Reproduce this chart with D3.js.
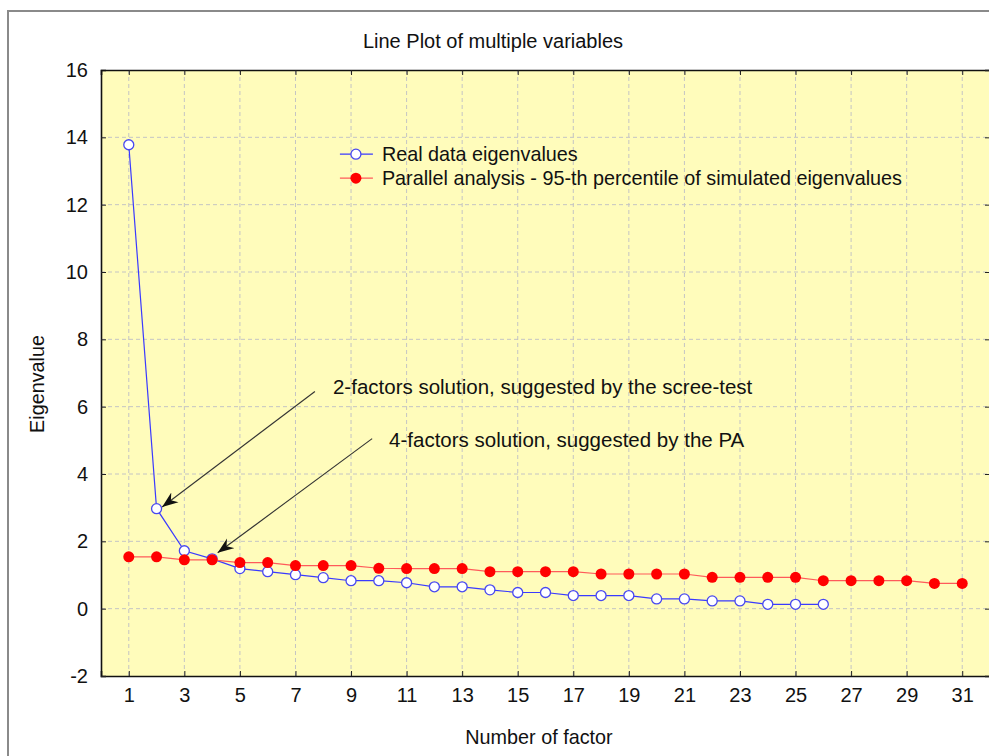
<!DOCTYPE html>
<html>
<head>
<meta charset="utf-8">
<script src="https://cdn.jsdelivr.net/npm/d3@7"></script>
<style>
  body { margin: 0; background: white; }
  text { font-family: "Liberation Sans", Arial, sans-serif; fill: #111; }
</style>
</head>
<body>
<div id="wrapper"></div>
<script>
// 1. Data
const factors = d3.range(1, 32)
const realEigen = [13.78, 2.97, 1.72, 1.48, 1.19, 1.10, 1.01, 0.92, 0.83, 0.83,
  0.77, 0.65, 0.65, 0.56, 0.48, 0.48, 0.39, 0.39, 0.39, 0.29,
  0.29, 0.23, 0.23, 0.13, 0.13, 0.13]
const parallelEigen = [1.54, 1.54, 1.45, 1.45, 1.37, 1.37, 1.28, 1.28, 1.28, 1.20,
  1.19, 1.19, 1.19, 1.10, 1.10, 1.10, 1.10, 1.03, 1.03, 1.03,
  1.03, 0.93, 0.93, 0.93, 0.93, 0.83, 0.83, 0.83, 0.83, 0.75, 0.75]
const xTicks = d3.range(1, 32, 2)
const yTicks = d3.range(-2, 17, 2)
const seriesNames = [
  "Real data eigenvalues",
  "Parallel analysis - 95-th percentile of simulated eigenvalues"
]
const annotations = [
  { text: "2-factors solution, suggested by the scree-test", tx: 8.35, ty: 6.6, x1: 7.7, y1: 6.45, x2: 2.2, y2: 3.02 },
  { text: "4-factors solution, suggested by the PA", tx: 10.37, ty: 5.02, x1: 9.76, y1: 5.05, x2: 4.2, y2: 1.66 }
]

const realData = realEigen.map((v, i) => ({ x: factors[i], y: v }))
const parallelData = parallelEigen.map((v, i) => ({ x: factors[i], y: v }))
const xAccessor = d => d.x
const yAccessor = d => d.y

// 2. Dimensions
let dimensions = {
  width: 989,
  height: 756,
  margin: { top: 70, right: -1, bottom: 80, left: 101 }
}
dimensions.boundedWidth = dimensions.width - dimensions.margin.left - dimensions.margin.right
dimensions.boundedHeight = dimensions.height - dimensions.margin.top - dimensions.margin.bottom

// 3. Canvas
const wrapper = d3.select("#wrapper")
  .append("svg")
    .attr("width", dimensions.width)
    .attr("height", dimensions.height)

// outer frame
wrapper.append("path")
    .attr("d", `M8,${dimensions.height} V11 H${dimensions.width}`)
    .attr("fill", "none")
    .attr("stroke", "#8a8a8a")
    .attr("stroke-width", 2)

const bounds = wrapper.append("g")
    .attr("transform", `translate(${dimensions.margin.left},${dimensions.margin.top})`)

bounds.append("rect")
    .attr("width", dimensions.boundedWidth)
    .attr("height", dimensions.boundedHeight)
    .attr("fill", "#fffcbb")

// 4. Scales
const xScale = d3.scaleLinear()
  .domain([0, 32])
  .range([0, dimensions.boundedWidth])

const yScale = d3.scaleLinear()
  .domain([-2, 16])
  .range([dimensions.boundedHeight, 0])

// 5. Grid
const grid = bounds.append("g")
    .attr("stroke", "#c4c4c4")
    .attr("stroke-dasharray", "4 3")
    .attr("stroke-width", 1)

grid.selectAll(".vgrid")
  .data(xTicks)
  .join("line")
    .attr("x1", d => xScale(d))
    .attr("x2", d => xScale(d))
    .attr("y1", 0)
    .attr("y2", dimensions.boundedHeight)

grid.selectAll(".hgrid")
  .data(yTicks.slice(1, -1))
  .join("line")
    .attr("class", "hgrid")
    .attr("x1", 0)
    .attr("x2", dimensions.boundedWidth)
    .attr("y1", d => yScale(d))
    .attr("y2", d => yScale(d))

// 6. Data
const lineGenerator = d3.line()
  .x(d => xScale(xAccessor(d)))
  .y(d => yScale(yAccessor(d)))

bounds.append("path")
    .attr("d", lineGenerator(realData))
    .attr("fill", "none")
    .attr("stroke", "#3a3aff")
    .attr("stroke-width", 1.2)

bounds.selectAll(".real")
  .data(realData)
  .join("circle")
    .attr("class", "real")
    .attr("cx", d => xScale(xAccessor(d)))
    .attr("cy", d => yScale(yAccessor(d)))
    .attr("r", 5)
    .attr("fill", "white")
    .attr("stroke", "#4848f0")
    .attr("stroke-width", 1.3)

bounds.append("path")
    .attr("d", lineGenerator(parallelData))
    .attr("fill", "none")
    .attr("stroke", "#ff5a5a")
    .attr("stroke-width", 1.2)

bounds.selectAll(".parallel")
  .data(parallelData)
  .join("circle")
    .attr("class", "parallel")
    .attr("cx", d => xScale(xAccessor(d)))
    .attr("cy", d => yScale(yAccessor(d)))
    .attr("r", 5.5)
    .attr("fill", "#ff0000")

// 7. Annotations
wrapper.append("defs").append("marker")
    .attr("id", "arrow")
    .attr("viewBox", "-16 -7 18 14")
    .attr("markerWidth", 18)
    .attr("markerHeight", 14)
    .attr("markerUnits", "userSpaceOnUse")
    .attr("orient", "auto")
  .append("path")
    .attr("d", "M0,0 L-16,-6 L-11,0 L-16,6 Z")
    .attr("fill", "#111")

const notes = bounds.selectAll(".note")
  .data(annotations)
  .join("g")

notes.append("line")
    .attr("x1", d => xScale(d.x1))
    .attr("y1", d => yScale(d.y1))
    .attr("x2", d => xScale(d.x2))
    .attr("y2", d => yScale(d.y2))
    .attr("stroke", "#333")
    .attr("stroke-width", 1.1)
    .attr("marker-end", "url(#arrow)")

notes.append("text")
    .attr("x", d => xScale(d.tx))
    .attr("y", d => yScale(d.ty))
    .attr("dy", "0.35em")
    .style("font-size", "20.5px")
    .text(d => d.text)

// 8. Legend
const legend = bounds.append("g")
    .attr("transform", `translate(${xScale(8.6)},${yScale(13.5)})`)

const legendRows = legend.selectAll("g")
  .data(seriesNames)
  .join("g")
    .attr("transform", (d, i) => `translate(0,${i * 24})`)

legendRows.append("line")
    .attr("x1", 0)
    .attr("x2", 33)
    .attr("stroke", (d, i) => i ? "#ff5a5a" : "#3a3aff")
    .attr("stroke-width", 1.2)

legendRows.append("circle")
    .attr("cx", 16)
    .attr("r", (d, i) => i ? 5.5 : 5)
    .attr("fill", (d, i) => i ? "#ff0000" : "white")
    .attr("stroke", (d, i) => i ? "none" : "#4848f0")
    .attr("stroke-width", 1.3)

legendRows.append("text")
    .attr("x", 42)
    .attr("dy", "0.35em")
    .style("font-size", "19.8px")
    .text(d => d)

// 9. Axes
const tickLabel = d => String(d)

const xAxis = bounds.append("g")
    .attr("transform", `translate(0,${dimensions.boundedHeight})`)
    .call(d3.axisBottom(xScale).tickValues(xTicks).tickFormat(tickLabel).tickSize(-5).tickPadding(12))

const yAxis = bounds.append("g")
    .call(d3.axisLeft(yScale).tickValues(yTicks).tickFormat(tickLabel).tickSize(-5).tickPadding(13))

bounds.append("g")
    .call(d3.axisTop(xScale).tickValues(xTicks).tickSize(-5).tickFormat(""))

bounds.append("g")
    .attr("transform", `translate(${dimensions.boundedWidth},0)`)
    .call(d3.axisRight(yScale).tickValues(yTicks).tickSize(-5).tickFormat(""))

bounds.selectAll(".domain")
    .attr("stroke", "#111")
    .attr("stroke-width", 1.6)

bounds.selectAll(".tick line")
    .attr("stroke", "#222")

bounds.selectAll(".tick text")
    .style("font-size", "20px")
    .style("font-family", "'Liberation Sans', Arial, sans-serif")
    .attr("fill", "#111")

// 10. Labels
wrapper.append("text")
    .attr("x", 493)
    .attr("y", 48)
    .style("text-anchor", "middle")
    .style("font-size", "20px")
    .text("Line Plot of multiple variables")

wrapper.append("text")
    .attr("x", 539)
    .attr("y", 744)
    .style("text-anchor", "middle")
    .style("font-size", "19.8px")
    .text("Number of factor")

wrapper.append("text")
    .attr("transform", `translate(44,384) rotate(-90)`)
    .style("text-anchor", "middle")
    .style("font-size", "19.8px")
    .text("Eigenvalue")
</script>
</body>
</html>
